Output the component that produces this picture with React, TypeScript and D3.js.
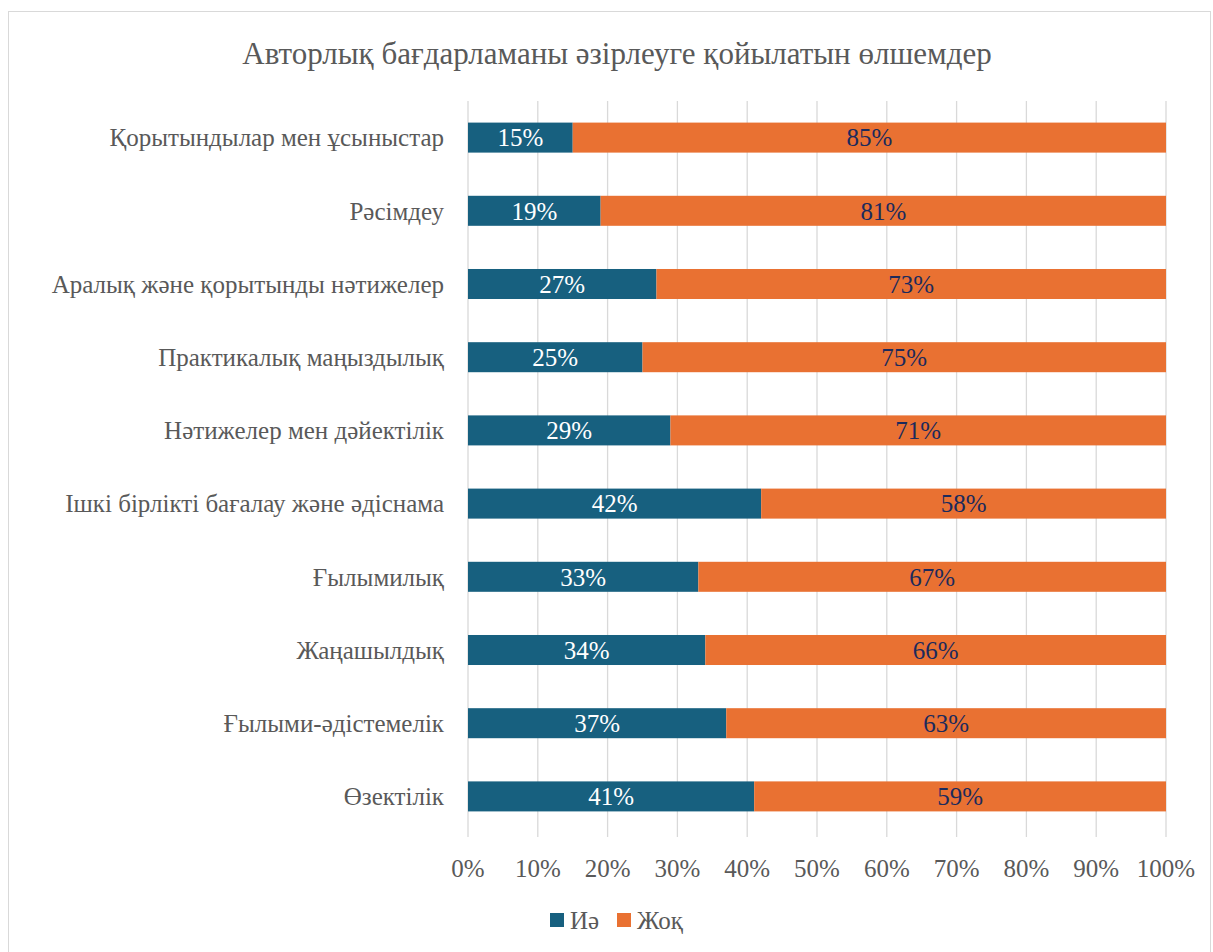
import { useEffect, useRef } from "react";
import * as d3 from "d3";

const categories = [
  "Қорытындылар мен ұсыныстар",
  "Рәсімдеу",
  "Аралық және қорытынды нәтижелер",
  "Практикалық маңыздылық",
  "Нәтижелер мен дәйектілік",
  "Ішкі бірлікті бағалау және әдіснама",
  "Ғылымилық",
  "Жаңашылдық",
  "Ғылыми-әдістемелік",
  "Өзектілік",
];
const yesValues = [15, 19, 27, 25, 29, 42, 33, 34, 37, 41];
const noValues = [85, 81, 73, 75, 71, 58, 67, 66, 63, 59];
const seriesNames = ["Иә", "Жоқ"];
const ticks = [0, 10, 20, 30, 40, 50, 60, 70, 80, 90, 100];
const title = "Авторлық бағдарламаны әзірлеуге қойылатын өлшемдер";

const BLUE = "#17607f";
const ORANGE = "#e97132";
const FONT = "Liberation Serif, Tinos, Noto Serif, FreeSerif, Times, DejaVu Serif, serif";

export default function App() {
  const svgRef = useRef<SVGSVGElement>(null);

  useEffect(() => {
    if (!svgRef.current) return;
    const svg = d3.select(svgRef.current);
    svg.selectAll("*").remove();

    const width = 1213;
    const height = 952;

    // Chart frame
    svg.append("rect")
      .attr("x", 8.5).attr("y", 11.5)
      .attr("width", 1202).attr("height", 950)
      .attr("fill", "#fff").attr("stroke", "#d9d9d9").attr("stroke-width", 1);

    svg.append("text")
      .attr("x", 617).attr("y", 64)
      .attr("text-anchor", "middle")
      .attr("fill", "#595959").attr("font-size", "31px")
      .style("font-family", FONT)
      .text(title);

    const x = d3.scaleLinear().domain([0, 100]).range([468, 1166]);
    const y = d3.scaleBand().domain(categories).range([101, 833]).paddingInner(0.59).paddingOuter(0.295);

    // Gridlines
    svg.append("g").selectAll("line").data(ticks).join("line")
      .attr("x1", d => x(d)).attr("x2", d => x(d))
      .attr("y1", 101).attr("y2", 837)
      .attr("stroke", "#d9d9d9").attr("stroke-width", 1.3);

    // Tick labels
    svg.append("g").selectAll("text").data(ticks).join("text")
      .attr("x", d => x(d)).attr("y", 877)
      .attr("text-anchor", "middle")
      .attr("fill", "#595959").attr("font-size", "25px")
      .style("font-family", FONT)
      .text(d => `${d}%`);

    // Category labels
    svg.append("g").selectAll("text").data(categories).join("text")
      .attr("x", 444).attr("y", d => (y(d) ?? 0) + y.bandwidth() / 2)
      .attr("dy", "0.35em")
      .attr("text-anchor", "end")
      .attr("fill", "#595959").attr("font-size", "25px")
      .style("font-family", FONT)
      .text(d => d);

    const rows = categories.map((c, i) => ({ c, yes: yesValues[i], no: noValues[i] }));

    const g = svg.append("g");
    rows.forEach(r => {
      const yy = y(r.c) ?? 0;
      const bh = y.bandwidth();
      g.append("rect")
        .attr("x", x(0)).attr("y", yy)
        .attr("width", x(r.yes) - x(0)).attr("height", bh)
        .attr("fill", BLUE);
      g.append("rect")
        .attr("x", x(r.yes)).attr("y", yy)
        .attr("width", x(r.yes + r.no) - x(r.yes)).attr("height", bh)
        .attr("fill", ORANGE);
      g.append("text")
        .attr("x", (x(0) + x(r.yes)) / 2).attr("y", yy + bh / 2)
        .attr("dy", "0.35em").attr("text-anchor", "middle")
        .attr("fill", "#ffffff").attr("font-size", "25px")
        .style("font-family", FONT)
        .text(`${r.yes}%`);
      g.append("text")
        .attr("x", (x(r.yes) + x(r.yes + r.no)) / 2).attr("y", yy + bh / 2)
        .attr("dy", "0.35em").attr("text-anchor", "middle")
        .attr("fill", "#1b2a5c").attr("font-size", "25px")
        .style("font-family", FONT)
        .text(`${r.no}%`);
    });

    // Legend
    const legend = svg.append("g");
    const items = [
      { name: seriesNames[0], color: BLUE, x: 550 },
      { name: seriesNames[1], color: ORANGE, x: 617 },
    ];
    items.forEach(it => {
      legend.append("rect")
        .attr("x", it.x).attr("y", 913)
        .attr("width", 14).attr("height", 14)
        .attr("fill", it.color);
      legend.append("text")
        .attr("x", it.x + 20).attr("y", 929)
        .attr("fill", "#595959").attr("font-size", "25px")
        .style("font-family", FONT)
        .text(it.name);
    });

    svg.attr("viewBox", `0 0 ${width} ${height}`);
  }, []);

  return (
    <div style={{ position: "absolute", left: 0, top: 0, width: 1213, height: 952, background: "#fff" }}>
      <svg ref={svgRef} width={1213} height={952} style={{ display: "block" }} />
    </div>
  );
}
